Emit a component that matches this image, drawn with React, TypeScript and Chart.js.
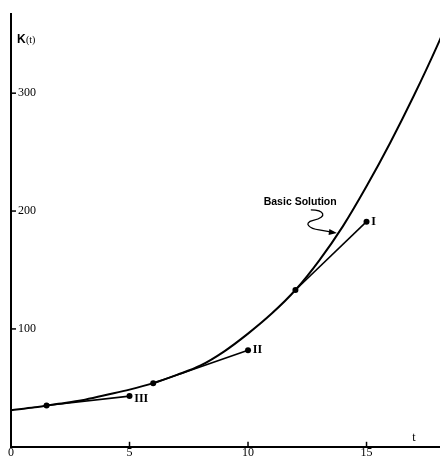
import React, { useEffect, useRef } from "react";
import { Chart, registerables } from "chart.js";

Chart.register(...registerables);

// Basic solution curve K(t)
const basicT = [0, 1, 2, 3, 4, 5, 6, 7, 8, 9, 10, 11, 12, 13, 14, 15, 16, 17, 18, 18.3];
const basicK = [31, 33.5, 36.5, 39.5, 44, 48.5, 54, 61, 69, 81, 96, 113, 133, 158, 187, 221, 258, 298, 341, 355];

// Policy segments
const segIT = [12, 15];
const segIK = [133, 191];
const segIIT = [6, 10];
const segIIK = [54, 82];
const segIIIT = [1.5, 5];
const segIIIK = [35, 43];

const xTicks = [0, 5, 10, 15];
const yTicks = [100, 200, 300];

const toPts = (xs: number[], ys: number[]) => xs.map((x, i) => ({ x, y: ys[i] }));

const annotPlugin = {
  id: "annot",
  afterDraw(chart: any) {
    const { ctx, scales, chartArea } = chart;
    const xs = scales.x;
    const ys = scales.y;
    const px = (v: number) => xs.getPixelForValue(v);
    const py = (v: number) => ys.getPixelForValue(v);
    ctx.save();
    ctx.strokeStyle = "#000";
    ctx.fillStyle = "#000";
    ctx.lineWidth = 1.5;
    // tick marks
    yTicks.forEach((v) => {
      const y = py(v);
      ctx.beginPath();
      ctx.moveTo(chartArea.left - 1, y);
      ctx.lineTo(chartArea.left + 5, y);
      ctx.stroke();
    });
    xTicks.slice(1).forEach((v) => {
      const x = px(v);
      ctx.beginPath();
      ctx.moveTo(x, chartArea.bottom);
      ctx.lineTo(x, chartArea.bottom - 5);
      ctx.stroke();
    });
    // texts
    ctx.textBaseline = "middle";
    ctx.textAlign = "left";
    ctx.font = "bold 12px 'Liberation Sans'";
    ctx.fillText("K", px(0.25), py(345));
    ctx.font = "10px 'Liberation Serif'";
    ctx.fillText("(t)", px(0.25) + 9, py(345));
    ctx.font = "bold 12px 'Liberation Serif'";
    ctx.fillText("I", px(15.2), py(191));
    ctx.fillText("II", px(10.2), py(82));
    ctx.fillText("III", px(5.2), py(41));
    ctx.font = "12px 'Liberation Serif'";
    ctx.textAlign = "center";
    ctx.fillText("t", px(17.0), py(8));
    ctx.font = "bold 10.5px 'Liberation Sans'";
    ctx.fillText("Basic Solution", px(12.2), py(208));
    // squiggle arrow
    ctx.lineWidth = 1.3;
    ctx.beginPath();
    ctx.moveTo(px(12.65), py(201));
    ctx.bezierCurveTo(px(13.2), py(201), px(13.4), py(195), px(12.75), py(192));
    ctx.bezierCurveTo(px(12.3), py(190), px(12.6), py(185), px(13.0), py(184));
    ctx.lineTo(px(13.6), py(182));
    ctx.stroke();
    // arrow head
    const tipX = px(13.75);
    const tipY = py(181.3);
    const ang = Math.atan2(tipY - py(183), tipX - px(13.1));
    ctx.beginPath();
    ctx.moveTo(tipX, tipY);
    ctx.lineTo(tipX - 8 * Math.cos(ang) + 3 * Math.sin(ang), tipY - 8 * Math.sin(ang) - 3 * Math.cos(ang));
    ctx.lineTo(tipX - 8 * Math.cos(ang) - 3 * Math.sin(ang), tipY - 8 * Math.sin(ang) + 3 * Math.cos(ang));
    ctx.closePath();
    ctx.fill();
    ctx.restore();
  },
};

export default function App() {
  const ref = useRef<HTMLCanvasElement | null>(null);
  useEffect(() => {
    if (!ref.current) return;
    const segStyle = {
      showLine: true,
      borderColor: "#000",
      backgroundColor: "#000",
      borderWidth: 1.6,
      pointRadius: 3,
      pointBackgroundColor: "#000",
      pointBorderWidth: 0,
    };
    const chart = new Chart(ref.current, {
      type: "scatter",
      data: {
        datasets: [
          {
            label: "Basic Solution",
            data: toPts(basicT, basicK),
            showLine: true,
            borderColor: "#000",
            borderWidth: 2,
            pointRadius: 0,
            cubicInterpolationMode: "monotone",
          } as any,
          { label: "I", data: toPts(segIT, segIK), ...segStyle },
          { label: "II", data: toPts(segIIT, segIIK), ...segStyle },
          { label: "III", data: toPts(segIIIT, segIIIK), ...segStyle },
        ],
      },
      options: {
        responsive: false,
        animation: false,
        layout: { autoPadding: false, padding: { left: 11, top: 12, right: 0, bottom: 0 } },
        plugins: { legend: { display: false }, tooltip: { enabled: false } },
        scales: {
          x: {
            type: "linear",
            min: 0,
            max: 18.1,
            afterFit: (s: any) => {
              s.height = 12;
            },
            grid: { display: false, drawTicks: false, tickLength: 0 },
            border: { display: true, color: "#000", width: 2 },
            ticks: {
              stepSize: 5,
              includeBounds: false,
              padding: 0,
              color: "#000",
              font: { family: "'Liberation Serif'", size: 12, lineHeight: 1 },
              callback: (v: any) => String(v),
            },
          },
          y: {
            type: "linear",
            min: 0,
            max: 367,
            afterFit: (s: any) => {
              s.width = 0;
            },
            grid: { display: false, drawTicks: false, tickLength: 0 },
            border: { display: true, color: "#000", width: 2 },
            ticks: {
              stepSize: 100,
              includeBounds: false,
              mirror: true,
              padding: 7,
              color: "#000",
              font: { family: "'Liberation Serif'", size: 12 },
              callback: (v: any) => (v === 0 ? "" : String(v)),
            },
          },
        },
      },
      plugins: [annotPlugin],
    });
    return () => chart.destroy();
  }, []);
  return (
    <div style={{ position: "fixed", left: 0, top: 0, width: 440, height: 461, background: "#fff" }}>
      <canvas ref={ref} width={440} height={461} style={{ display: "block" }} />
    </div>
  );
}
